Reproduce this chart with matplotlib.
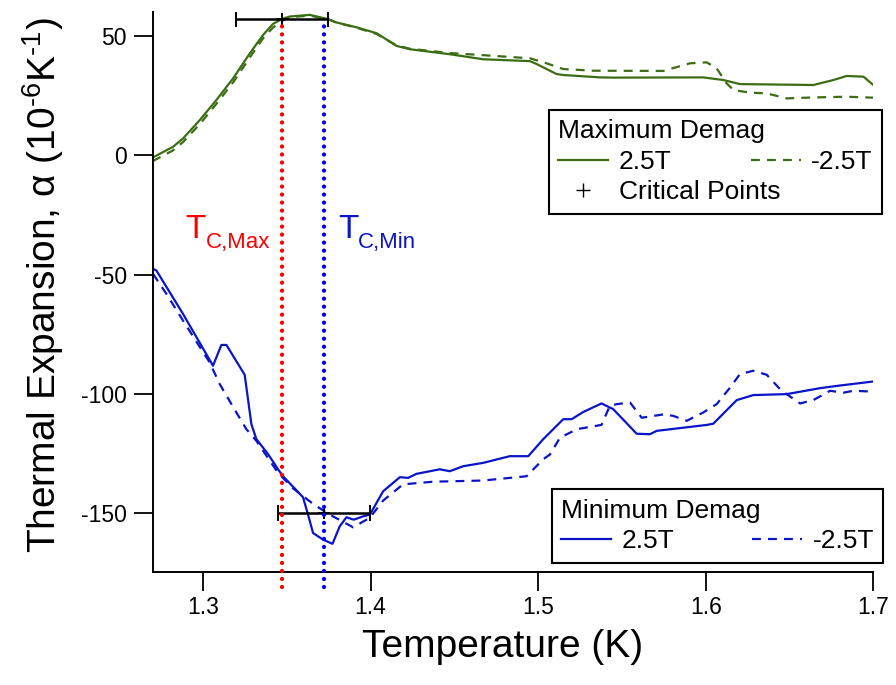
import numpy as np
import matplotlib
matplotlib.use('Agg')
import matplotlib.pyplot as plt
from matplotlib.lines import Line2D

plt.rcParams['font.family'] = ['Liberation Sans', 'DejaVu Sans']
plt.rcParams['mathtext.fontset'] = 'custom'
plt.rcParams['mathtext.rm'] = 'Liberation Sans'
plt.rcParams['axes.unicode_minus'] = False

# *****************************************
# values
# Maximum demag, +2.5T
temp_max_pos = [1.270, 1.2821, 1.2881, 1.2981, 1.308, 1.318, 1.328, 1.3359, 1.3418, 1.3472,
                1.3518, 1.3637, 1.3747, 1.3797, 1.3916, 1.4036, 1.4155, 1.4234, 1.4473, 1.4672,
                1.4951, 1.4991, 1.511, 1.515, 1.5369, 1.5448, 1.5985, 1.6105, 1.6204, 1.6642,
                1.6762, 1.6841, 1.6941, 1.700]
alpha_max_pos = [-1.0, 3.5, 7.0, 14.7, 23.1, 32.2, 42.7, 50.4, 55.0, 57.1,
                 58.1, 58.8, 57.0, 55.6, 53.6, 51.1, 45.8, 44.4, 42.3, 40.2,
                 39.4, 38.2, 34.0, 33.6, 32.6, 32.5, 32.6, 31.5, 29.8, 29.4,
                 31.5, 33.2, 32.9, 29.4]

# Maximum demag, -2.5T
temp_max_neg = [1.270, 1.2821, 1.2881, 1.2981, 1.308, 1.318, 1.328, 1.3359, 1.3418, 1.3472,
                1.3518, 1.3637, 1.3747, 1.3797, 1.3916, 1.4036, 1.4155, 1.4234, 1.4473, 1.4652,
                1.4951, 1.505, 1.515, 1.5329, 1.5747, 1.5906, 1.6006, 1.6065, 1.6125, 1.6165,
                1.6264, 1.6364, 1.6483, 1.6642, 1.6841, 1.700]
alpha_max_neg = [-2.5, 2.0, 5.5, 13.0, 21.5, 30.5, 41.0, 49.0, 53.5, 56.3,
                 57.8, 58.5, 57.0, 55.5, 53.4, 50.8, 46.0, 44.6, 42.8, 42.0,
                 40.6, 38.5, 36.1, 35.4, 35.3, 38.5, 38.9, 36.4, 30.1, 27.3,
                 26.2, 25.9, 23.8, 24.2, 24.5, 24.1]

# Minimum demag, +2.5T
temp_min_pos = [1.2702, 1.2722, 1.2881, 1.306, 1.311, 1.314, 1.3249, 1.3289, 1.3319, 1.3389,
                1.3448, 1.3478, 1.3597, 1.3627, 1.3657, 1.3717, 1.3773, 1.3816, 1.3856, 1.39,
                1.3956, 1.3996, 1.4075, 1.4175, 1.4224, 1.4274, 1.4413, 1.4473, 1.4553, 1.4672,
                1.4831, 1.4941, 1.503, 1.515, 1.52, 1.5269, 1.5378, 1.5448, 1.5588, 1.5667,
                1.5707, 1.6006, 1.6045, 1.6185, 1.6284, 1.6483, 1.6682, 1.6801, 1.700]
alpha_min_pos = [-47.6, -48.3, -66.5, -88.2, -79.5, -79.5, -92.0, -112.7, -119.0, -125.3,
                 -131.6, -134.5, -143.3, -150.6, -158.3, -161.1, -162.8, -155.5, -151.7, -152.7,
                 -151.3, -150.6, -140.8, -134.9, -135.2, -133.5, -131.6, -132.4, -130.3, -128.9,
                 -126.1, -126.1, -119.0, -110.6, -110.6, -107.6, -104.0, -106.4, -116.7, -116.9,
                 -115.5, -113.0, -112.5, -102.6, -100.5, -100.1, -97.6, -96.5, -94.8]

# Minimum demag, -2.5T
temp_min_neg = [1.2702, 1.2782, 1.2881, 1.304, 1.31, 1.317, 1.3259, 1.3319, 1.3448, 1.3538,
                1.3657, 1.3757, 1.3896, 1.3996, 1.4075, 1.4194, 1.4373, 1.4672, 1.4931, 1.503,
                1.507, 1.513, 1.523, 1.5378, 1.5428, 1.5469, 1.5548, 1.5618, 1.5747, 1.5806,
                1.5886, 1.5985, 1.6065, 1.6145, 1.6204, 1.6284, 1.6364, 1.6443, 1.6483, 1.6563,
                1.6642, 1.6742, 1.6821, 1.6881, 1.6981]
alpha_min_neg = [-49.7, -58.1, -69.3, -86.8, -95.9, -104.3, -114.8, -119.7, -133.1, -139.6,
                 -146.1, -150.6, -155.9, -151.9, -144.7, -137.9, -136.8, -136.3, -134.5, -127.4,
                 -125.4, -118.4, -114.8, -113.0, -105.0, -104.3, -103.6, -110.0, -108.6, -109.2,
                 -111.3, -107.8, -104.3, -97.4, -91.7, -90.3, -92.0, -98.0, -100.1, -104.0,
                 -102.6, -98.7, -99.5, -98.7, -99.0]

# critical points
tc_temp = [1.3473, 1.3722]
tc_alpha = [57.0, -150.0]
tc_err = [0.0274, 0.0276]
# *****************************************

green = '#3b6e14'
blue = '#0a14c8'
dots = (0, (0.01, 1.85))
dash = (0, (4, 3.2))

fig = plt.figure(figsize=(8.96, 6.85), dpi=100)
ax = fig.add_axes([0.1704, 0.1654, 0.8043, 0.8171])

l_max_pos, = ax.plot(temp_max_pos, alpha_max_pos, color=green, lw=1.6)
l_max_neg, = ax.plot(temp_max_neg, alpha_max_neg, color=green, lw=1.6, ls=dash)
l_min_pos, = ax.plot(temp_min_pos, alpha_min_pos, color=blue, lw=1.6)
l_min_neg, = ax.plot(temp_min_neg, alpha_min_neg, color=blue, lw=1.6, ls=dash)

ax.errorbar(tc_temp, tc_alpha, xerr=tc_err, fmt='+', color='k', ms=8, mew=1.4,
            elinewidth=1.8, capsize=5.5, capthick=1.8, zorder=4)

# dotted markers of the two transitions, running past the bottom axis
ax.plot([tc_temp[0], tc_temp[0]], [-181, tc_alpha[0]], color='#ff0000', lw=3.1, ls=dots,
        dash_capstyle='round', clip_on=False, zorder=5)
ax.plot([tc_temp[1], tc_temp[1]], [-181, tc_alpha[0]], color='#0000ff', lw=3.1, ls=dots,
        dash_capstyle='round', clip_on=False, zorder=5)

ax.text(1.2893, -34.7, 'T', color='#ff0000', fontsize=24)
ax.annotate('C,Max', xy=(1.2893, -34.7), xytext=(15, -7.2), textcoords='offset points',
            color='#ff0000', fontsize=16)
ax.text(1.3806, -34.7, 'T', color=blue, fontsize=24)
ax.annotate('C,Min', xy=(1.3806, -34.7), xytext=(14.6, -7.2), textcoords='offset points',
            color=blue, fontsize=16)

ax.set_xlim(1.27, 1.70)
ax.set_ylim(-174.5, 60)
ax.set_xticks([1.3, 1.4, 1.5, 1.6, 1.7])
ax.set_yticks([-150, -100, -50, 0, 50])
ax.spines['top'].set_visible(False)
ax.spines['right'].set_visible(False)
for s in ['left', 'bottom']:
    ax.spines[s].set_linewidth(1.4)
ax.tick_params(direction='out', length=13.5, width=1.3, labelsize=16.5)
ax.tick_params(axis='x', pad=4)
ax.tick_params(axis='y', pad=5)

ax.set_xlabel('Temperature (K)', fontsize=28, labelpad=7, x=0.485)
ax.set_ylabel('Thermal Expansion, α (10$^{\\text{-6}}$K$^{\\text{-1}}$)',
              fontsize=28, labelpad=11, y=0.512)

cp = Line2D([], [], ls='none', marker='+', color='k', ms=10, mew=1.0)
leg_kw = dict(ncol=2, mode='expand', loc='upper left', borderaxespad=0, alignment='left',
              fontsize=19, title_fontsize=19, handlelength=1.9, handletextpad=0.4,
              borderpad=0.35, labelspacing=0.25, fancybox=False, edgecolor='k', framealpha=1)
leg1 = ax.legend([l_max_pos, cp, l_max_neg], ['2.5T', 'Critical Points', '-2.5T'],
                 title='Maximum Demag', bbox_to_anchor=(0.550, 0.6409, 0.462, 0.184), **leg_kw)
leg1.get_frame().set_linewidth(1.5)
ax.add_artist(leg1)
leg2 = ax.legend([l_min_pos, l_min_neg], ['2.5T', '-2.5T'],
                 title='Minimum Demag', bbox_to_anchor=(0.5537, 0.0179, 0.460, 0.129), **leg_kw)
leg2.get_frame().set_linewidth(1.5)

fig.savefig('out.png', dpi=100)
